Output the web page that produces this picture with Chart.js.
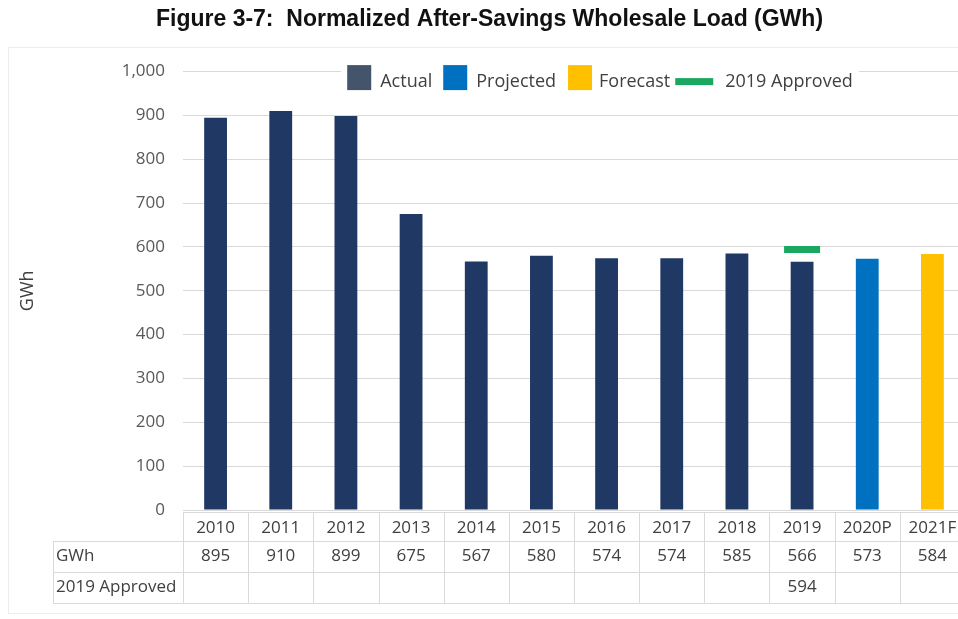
<!DOCTYPE html>
<html><head><meta charset="utf-8">
<script src="https://cdn.jsdelivr.net/npm/chart.js@4/dist/chart.umd.min.js"></script>
<style>html,body{margin:0;padding:0;background:#fff;overflow:hidden}#wrap{width:965px;height:619px;position:relative}</style>
</head><body><div id="wrap"><canvas id="c" width="965" height="619" style="width:965px;height:619px"></canvas></div>
<script>
const categories = ['2010','2011','2012','2013','2014','2015','2016','2017','2018','2019','2020P','2021F'];
const actualValues = [895,910,899,675,567,580,574,574,585,566,null,null];
const projectedValues = [null,null,null,null,null,null,null,null,null,null,573,null];
const forecastValues = [null,null,null,null,null,null,null,null,null,null,null,584];
const approvedValues = [null,null,null,null,null,null,null,null,null,594,null,null];
const tableRowLabels = ['GWh','2019 Approved'];
const seriesNames = ['Actual','Projected','Forecast','2019 Approved'];
const yMin = 0, yMax = 1000, yStep = 100;
const titleText = 'Figure 3-7:  Normalized After-Savings Wholesale Load (GWh)';

const FONT = "'Open Sans', sans-serif";
const gwhRow = categories.map((c,i)=> actualValues[i] ?? projectedValues[i] ?? forecastValues[i]);

const legendPlugin = {
  id: 'customLegend',
  afterDraw(chart) {
    const ctx = chart.ctx;
    const ds = chart.data.datasets;
    const items = [
      {label: ds[0].label, color: '#44546a', w: 24, h: 25, g1: 9, g2: 11},
      {label: ds[1].label, color: ds[1].backgroundColor, w: 24, h: 25, g1: 9, g2: 12},
      {label: ds[2].label, color: ds[2].backgroundColor, w: 24, h: 25, g1: 7, g2: 5},
      {label: ds[3].label, color: ds[3].pointBorderColor, w: 38, h: 7, g1: 12, g2: 0}
    ];
    ctx.save();
    ctx.font = "18px " + FONT;
    let total = 0;
    items.forEach(it => { it.tw = ctx.measureText(it.label).width; total += it.w + it.g1 + it.tw + it.g2; });
    const cx = 600, cy = chart.chartArea.top + 6;
    let x = cx - total / 2;
    ctx.fillStyle = '#fff';
    ctx.fillRect(x - 6, cy - 14, total + 12, 30);
    ctx.textBaseline = 'middle';
    items.forEach(it => {
      ctx.fillStyle = it.color;
      const by = it.h > 10 ? cy - it.h / 2 : cy + 4 - it.h / 2;
      ctx.fillRect(x, by, it.w, it.h);
      x += it.w + it.g1;
      ctx.fillStyle = '#404040';
      ctx.fillText(it.label, x, cy + 4);
      x += it.tw + it.g2;
    });
    ctx.restore();
  }
};

const tablePlugin = {
  id: 'dataTable',
  afterDraw(chart) {
    const ctx = chart.ctx, xs = chart.scales.x, a = chart.chartArea;
    const top = a.bottom + 2, r1 = a.bottom + 31, r2 = a.bottom + 62, r3 = a.bottom + 93;
    const tableLeft = 53;
    const right = chart.width;
    const half = (xs.getPixelForValue(1) - xs.getPixelForValue(0)) / 2;
    ctx.save();
    ctx.strokeStyle = '#d9d9d9';
    ctx.lineWidth = 1;
    ctx.beginPath();
    ctx.moveTo(a.left, top + 0.5); ctx.lineTo(right, top + 0.5);
    [r1, r2, r3].forEach(y => { ctx.moveTo(tableLeft, y + 0.5); ctx.lineTo(right, y + 0.5); });
    ctx.moveTo(tableLeft + 0.5, r1); ctx.lineTo(tableLeft + 0.5, r3);
    categories.forEach((c, i) => {
      const bx = Math.round(xs.getPixelForValue(i) - half) + 0.5;
      ctx.moveTo(bx, top); ctx.lineTo(bx, r3);
    });
    ctx.stroke();
    ctx.font = "17px " + FONT;
    ctx.fillStyle = '#404040';
    ctx.textBaseline = 'middle';
    ctx.textAlign = 'left';
    ctx.fillText(tableRowLabels[0], tableLeft + 3, (r1 + r2) / 2);
    ctx.fillText(tableRowLabels[1], tableLeft + 3, (r2 + r3) / 2);
    ctx.textAlign = 'center';
    categories.forEach((c, i) => {
      const px = xs.getPixelForValue(i);
      if (gwhRow[i] != null) ctx.fillText(String(gwhRow[i]), px, (r1 + r2) / 2);
      if (approvedValues[i] != null) ctx.fillText(String(approvedValues[i]), px, (r2 + r3) / 2);
    });
    ctx.restore();
  }
};

const framePlugin = {
  id: 'frame',
  beforeDraw(chart) {
    const ctx = chart.ctx;
    ctx.save();
    ctx.strokeStyle = '#ececec';
    ctx.lineWidth = 1;
    ctx.strokeRect(8.5, 47.5, chart.width + 10, 566);
    ctx.restore();
  }
};

new Chart(document.getElementById('c'), {
  type: 'bar',
  data: {
    labels: categories,
    datasets: [
      {label: seriesNames[0], data: actualValues, backgroundColor: '#203864', grouped: false, barPercentage: 0.35, categoryPercentage: 1, order: 2},
      {label: seriesNames[1], data: projectedValues, backgroundColor: '#0070c0', grouped: false, barPercentage: 0.35, categoryPercentage: 1, order: 2},
      {label: seriesNames[2], data: forecastValues, backgroundColor: '#ffc000', grouped: false, barPercentage: 0.35, categoryPercentage: 1, order: 2},
      {label: seriesNames[3], type: 'line', data: approvedValues, showLine: false, pointStyle: 'line', pointRadius: 18, pointHoverRadius: 18, pointBorderWidth: 7, pointBorderColor: '#1aa760', pointBackgroundColor: '#1aa760', order: 1}
    ]
  },
  options: {
    responsive: false,
    maintainAspectRatio: false,
    devicePixelRatio: 1,
    animation: false,
    layout: {autoPadding: false, padding: {left: 14, right: 0, top: 0, bottom: 0}},
    plugins: {
      legend: {display: false},
      tooltip: {enabled: false},
      title: {display: true, text: titleText, color: '#111', font: {family: "'Liberation Sans', Arial, sans-serif", size: 23, weight: 'bold'}, padding: {top: 6, bottom: 38}}
    },
    scales: {
      x: {
        grid: {display: false, drawTicks: false},
        border: {display: false},
        ticks: {color: '#404040', font: {family: FONT, size: 17}, padding: 8, maxRotation: 0, autoSkip: false},
        afterFit(s) { s.height = 109; s.paddingLeft = 0; s.paddingRight = 0; }
      },
      y: {
        min: yMin, max: yMax,
        grid: {color: '#d9d9d9', drawTicks: false},
        border: {display: false},
        ticks: {stepSize: yStep, color: '#595959', font: {family: FONT, size: 17}, padding: 18,
          callback: v => v.toLocaleString('en-US')},
        title: {display: true, text: 'GWh', color: '#404040', font: {family: FONT, size: 18}, padding: {top: 3, bottom: 0}},
        afterFit(s) { s.width = 169; }
      }
    }
  },
  plugins: [framePlugin, legendPlugin, tablePlugin]
});
</script></body></html>
